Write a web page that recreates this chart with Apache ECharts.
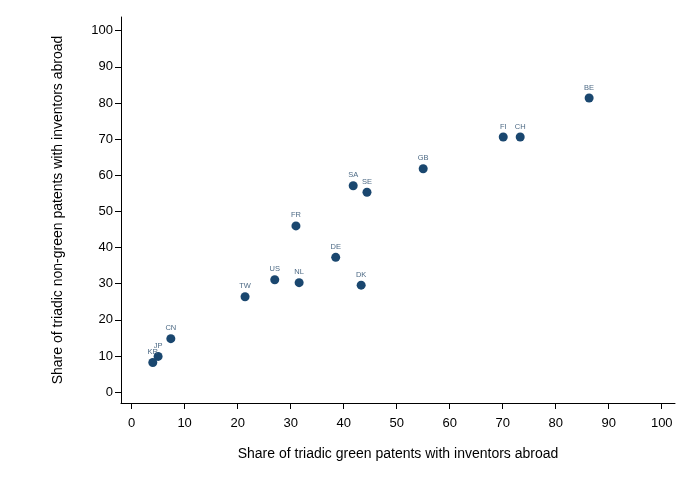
<!DOCTYPE html>
<html>
<head>
<meta charset="utf-8">
<script src="https://cdn.jsdelivr.net/npm/echarts@6/dist/echarts.min.js"></script>
<style>html,body{margin:0;padding:0;background:#fff;}#c{width:681px;height:478px;}</style>
</head>
<body>
<div id="c"></div>
<script>
const countries = ['KR','JP','CN','TW','US','NL','FR','DE','DK','SA','SE','GB','FI','CH','BE'];
const greenShare = [4.0, 5.0, 7.4, 21.4, 27.0, 31.6, 31.0, 38.5, 43.3, 41.8, 44.4, 55.0, 70.1, 73.3, 86.3];
const nonGreenShare = [8.2, 9.9, 14.8, 26.4, 31.1, 30.3, 46.0, 37.3, 29.6, 57.1, 55.3, 61.8, 70.6, 70.6, 81.4];
const xTicks = [0,10,20,30,40,50,60,70,80,90,100];
const yTicks = [0,10,20,30,40,50,60,70,80,90,100];

const data = countries.map((c,i)=>({name:c, value:[greenShare[i], nonGreenShare[i]]}));
const chart = echarts.init(document.getElementById('c'));
const FONT = 'Liberation Sans, Arial, sans-serif';
const axisCommon = {
  axisLine:{show:true, onZero:false, lineStyle:{color:'#000', width:1}},
  axisTick:{show:true, inside:false, length:6, lineStyle:{color:'#000'}},
  splitLine:{show:false},
  axisLabel:{color:'#000', fontSize:13, fontFamily:FONT},
  nameTextStyle:{color:'#000', fontSize:14, fontFamily:FONT}
};
chart.setOption({
  animation:false,
  backgroundColor:'#fff',
  grid:{left:121, right:6, top:17, bottom:75, containLabel:false},
  xAxis:Object.assign({}, axisCommon, {
    type:'value', min:-2, max:102.5,
    name:'Share of triadic green patents with inventors abroad',
    nameLocation:'middle', nameGap:44,
    axisTick:Object.assign({}, axisCommon.axisTick, {customValues:xTicks}),
    axisLabel:Object.assign({}, axisCommon.axisLabel, {customValues:xTicks, margin:14})
  }),
  yAxis:Object.assign({}, axisCommon, {
    type:'value', min:-3, max:103.8,
    name:'Share of triadic non-green patents with inventors abroad',
    nameLocation:'middle', nameGap:56,
    axisTick:Object.assign({}, axisCommon.axisTick, {customValues:yTicks}),
    axisLabel:Object.assign({}, axisCommon.axisLabel, {customValues:yTicks, margin:8})
  }),
  series:[{
    type:'scatter',
    data:data,
    symbolSize:9,
    itemStyle:{color:'#1a476f', opacity:1},
    label:{show:true, position:'top', distance:2, formatter:p=>p.name,
      fontSize:7.5, color:'#4d6a85', fontFamily:FONT}
  }]
});
</script>
</body>
</html>
